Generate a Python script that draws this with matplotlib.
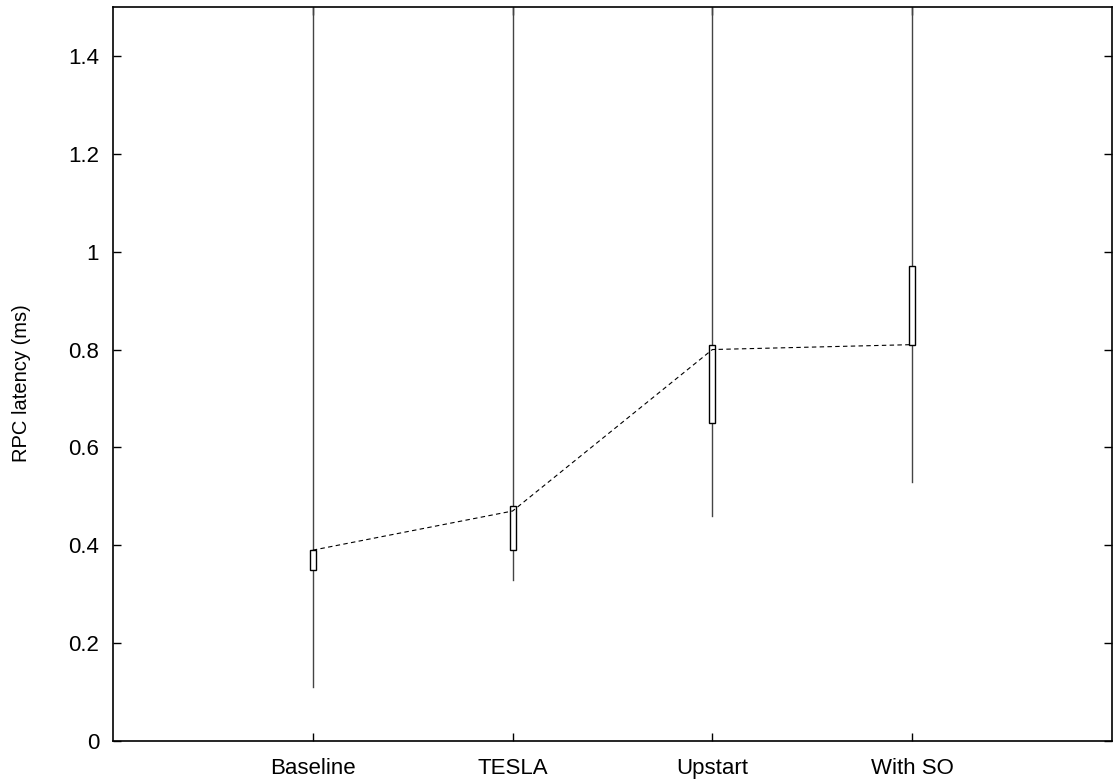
import matplotlib
matplotlib.use("Agg")
import matplotlib.pyplot as plt
from matplotlib.patches import Rectangle

plt.rcParams['font.family'] = ['Liberation Sans', 'DejaVu Sans']
plt.rcParams['font.size'] = 16

categories = ['Baseline', 'TESLA', 'Upstart', 'With SO']
whisker_low = [0.11, 0.33, 0.46, 0.53]
box_low = [0.35, 0.39, 0.65, 0.81]
median = [0.39, 0.47, 0.80, 0.81]
box_high = [0.39, 0.48, 0.81, 0.97]
whisker_high = [1.6, 1.6, 1.6, 1.6]

fig = plt.figure(figsize=(11.13, 7.82), dpi=100)
ax = fig.add_axes([113 / 1113, 1 - 741 / 782, 999 / 1113, 734 / 782])

xs = list(range(1, len(categories) + 1))
box_w = 0.03

for i, x in enumerate(xs):
    ax.plot([x, x], [whisker_low[i], box_low[i]], color='#444444', linewidth=1, zorder=2)
    ax.plot([x, x], [box_high[i], whisker_high[i]], color='#444444', linewidth=1, zorder=2)
    ax.add_patch(Rectangle((x - box_w / 2, box_low[i]), box_w, box_high[i] - box_low[i],
                           facecolor='white', edgecolor='black', linewidth=1, zorder=3))

ax.plot(xs, median, color='black', linestyle=(0, (4, 3)), linewidth=0.8, zorder=4)

ax.set_xlim(0, 5)
ax.set_ylim(0, 1.5)
ax.set_xticks(xs)
ax.set_xticklabels(categories)
ax.set_yticks([0, 0.2, 0.4, 0.6, 0.8, 1.0, 1.2, 1.4])
ax.set_yticklabels(['0', '0.2', '0.4', '0.6', '0.8', '1', '1.2', '1.4'])
ax.tick_params(direction='in', length=6, width=1, top=True, right=True)
ax.tick_params(axis='x', pad=12)
ax.tick_params(axis='y', pad=10)
for s in ax.spines.values():
    s.set_linewidth(1.2)
ax.set_ylabel('RPC latency (ms)', fontsize=14.5)
ax.yaxis.set_label_coords(-0.082, 0.488)

fig.savefig('out.png', dpi=100)
